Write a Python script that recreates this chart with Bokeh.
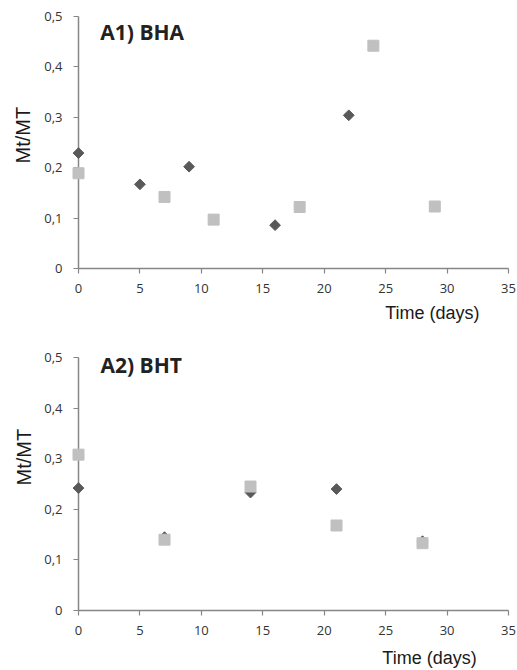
import math
from bokeh.plotting import figure
from bokeh.layouts import column
from bokeh.models import (Range1d, FixedTicker, CustomJSTickFormatter, Label,
                          Title, LinearAxis)
from bokeh.embed import file_html
from bokeh.resources import INLINE

# ---- data ----
bha_diamond_days = [0, 5, 9, 16, 22]
bha_diamond_vals = [0.229, 0.167, 0.202, 0.086, 0.304]
bha_square_days = [0, 7, 11, 18, 24, 29]
bha_square_vals = [0.189, 0.142, 0.097, 0.122, 0.442, 0.123]

bht_diamond_days = [0, 7, 14, 21, 28]
bht_diamond_vals = [0.242, 0.145, 0.233, 0.240, 0.137]
bht_square_days = [0, 7, 14, 21, 28]
bht_square_vals = [0.308, 0.140, 0.245, 0.168, 0.133]

x_ticks = [0, 5, 10, 15, 20, 25, 30, 35]
y_ticks = [0, 0.1, 0.2, 0.3, 0.4, 0.5]

titles = ["A1) BHA", "A2) BHT"]
x_label = "Time (days)"
y_label = "Mt/MT"

DARK = "#595959"
LIGHT = "#c0c0c0"
AXIS = "#868686"
TICKTXT = "#333333"


def make_fig(title, dx, dy, sx, sy, height, bt, bb, bl, br,
             title_pos, xlab_x, xlab_standoff, ylab_standoff, ylab_offset):
    p = figure(width=517, height=height, output_backend="svg",
               toolbar_location=None, x_range=Range1d(0, 35),
               y_range=Range1d(0, 0.5),
               min_border_top=bt, min_border_bottom=bb,
               min_border_left=bl, min_border_right=br)
    p.outline_line_color = None
    p.grid.visible = False
    p.background_fill_color = "white"
    p.border_fill_color = "white"
    for ax in (p.xaxis[0], p.yaxis[0]):
        ax.axis_line_color = AXIS
        ax.axis_line_width = 1.5
        ax.major_tick_line_color = AXIS
        ax.major_tick_line_width = 1.2
        ax.major_tick_out = 5
        ax.major_tick_in = 0
        ax.minor_tick_line_color = None
        ax.major_label_text_font = "Open Sans"
        ax.major_label_text_font_size = "13px"
        ax.major_label_text_color = TICKTXT
    p.xaxis.ticker = FixedTicker(ticks=x_ticks)
    p.yaxis.ticker = FixedTicker(ticks=y_ticks)
    p.xaxis.major_label_standoff = 10
    p.yaxis.major_label_standoff = 11
    p.yaxis.formatter = CustomJSTickFormatter(
        code="return tick == 0 ? '0' : tick.toFixed(1).replace('.', ',');")

    r1 = p.scatter(dx, dy, marker="square", size=7.6, angle=math.pi / 4,
                   fill_color=DARK, line_color=DARK)
    r2 = p.scatter(sx, sy, marker="square", size=11,
                   fill_color=LIGHT, line_color=LIGHT)
    r1.level = "overlay"
    r2.level = "overlay"

    p.add_layout(Label(x=title_pos[0], y=title_pos[1], text=title,
                       text_font="Open Sans", text_font_style="bold",
                       text_font_size="21px", text_color="#222222",
                       text_baseline="middle", text_align="left"))

    # x axis title, placed right of centre as in the original
    lab_axis = LinearAxis(ticker=FixedTicker(ticks=[xlab_x]),
                          formatter=CustomJSTickFormatter(
                              code="return %r;" % x_label),
                          axis_line_color=None, major_tick_line_color=None,
                          minor_tick_line_color=None, major_tick_out=0,
                          major_tick_in=0,
                          major_label_standoff=xlab_standoff,
                          major_label_text_font="Liberation Sans",
                          major_label_text_font_size="18px",
                          major_label_text_color="#1a1a1a")
    p.add_layout(lab_axis, "below")

    p.add_layout(Title(text=y_label, align="left", offset=ylab_offset,
                       standoff=ylab_standoff,
                       text_font="Liberation Sans", text_font_size="20px",
                       text_font_style="normal", text_color="#1a1a1a"),
                 "left")
    return p


p1 = make_fig(titles[0], bha_diamond_days, bha_diamond_vals,
              bha_square_days, bha_square_vals,
              height=335, bt=16, bb=67, bl=76, br=9,
              title_pos=(1.78, 0.469), xlab_x=28.8, xlab_standoff=7,
              ylab_standoff=16, ylab_offset=105)
p2 = make_fig(titles[1], bht_diamond_days, bht_diamond_vals,
              bht_square_days, bht_square_vals,
              height=335, bt=22, bb=60, bl=78, br=9,
              title_pos=(1.79, 0.486), xlab_x=28.57, xlab_standoff=10,
              ylab_standoff=14, ylab_offset=125)

layout = column(p1, p2)
open("out.html", "w").write(file_html(layout, INLINE))
